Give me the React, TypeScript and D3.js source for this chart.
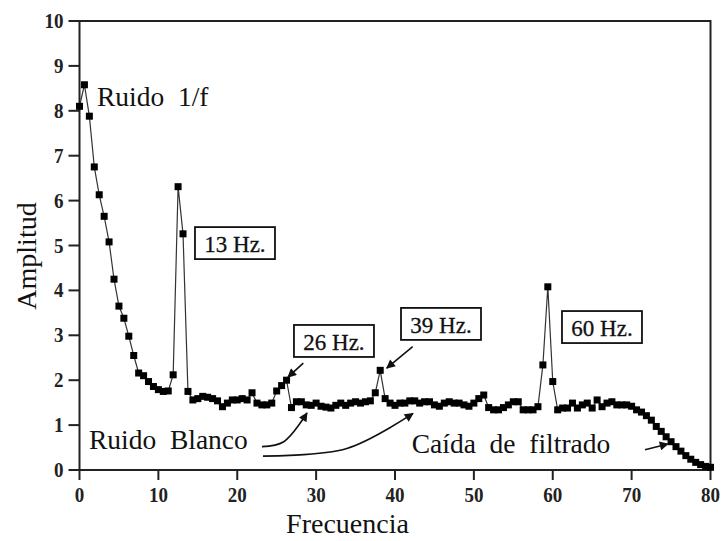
import React from "react";
import * as d3 from "d3";

// Spectrum sampled every 0.625 Hz from 0 to 80 Hz
const binWidthHz = 0.625;
const amplitude = [
  8.1, 8.58, 7.88, 6.75, 6.13, 5.65, 5.08, 4.25, 3.65, 3.38,
  2.98, 2.55, 2.16, 2.1, 1.97, 1.86, 1.79, 1.75, 1.76, 2.12,
  6.31, 5.26, 1.75, 1.56, 1.59, 1.64, 1.62, 1.59, 1.54, 1.41,
  1.49, 1.56, 1.56, 1.59, 1.56, 1.72, 1.49, 1.45, 1.45, 1.49,
  1.76, 1.88, 2.0, 1.39, 1.52, 1.52, 1.45, 1.44, 1.49, 1.42,
  1.4, 1.38, 1.44, 1.49, 1.44, 1.49, 1.52, 1.49, 1.52, 1.54,
  1.72, 2.22, 1.59, 1.49, 1.44, 1.49, 1.49, 1.54, 1.54, 1.49,
  1.52, 1.52, 1.45, 1.42, 1.49, 1.52, 1.49, 1.49, 1.45, 1.42,
  1.49, 1.59, 1.67, 1.39, 1.34, 1.34, 1.39, 1.45, 1.52, 1.52,
  1.34, 1.34, 1.34, 1.41, 2.34, 4.08, 1.97, 1.34, 1.38, 1.38,
  1.49, 1.38, 1.45, 1.49, 1.38, 1.56, 1.41, 1.49, 1.52, 1.45,
  1.45, 1.45, 1.42, 1.34, 1.29, 1.21, 1.11, 0.97, 0.86, 0.74,
  0.63, 0.52, 0.42, 0.32, 0.24, 0.17, 0.12, 0.08, 0.06,
];

const xTicks = [0, 10, 20, 30, 40, 50, 60, 70, 80];
const yTicks = [0, 1, 2, 3, 4, 5, 6, 7, 8, 9, 10];

// Boxed peak labels: [text, left Hz, top amplitude]
const peakLabels: [string, number, number][] = [
  ["13 Hz.", 14.64, 5.41],
  ["26 Hz.", 27.19, 3.23],
  ["39 Hz.", 40.76, 3.61],
  ["60 Hz.", 61.17, 3.54],
];

// Free text labels: [text, Hz, amplitude at baseline]
const noteLabels: [string, number, number][] = [
  ["Ruido  1/f", 2.22, 8.11],
  ["Ruido  Blanco", 1.2, 0.47],
  ["Caída  de  filtrado", 42.12, 0.38],
];

// Pointer arrows, each a list of [Hz, amplitude] ending at the tip
const pointers: [number, number][][] = [
  [[28.37, 2.38], [26.43, 2.07]],
  [[42.24, 2.75], [38.95, 2.27]],
  [[23.14, 0.52], [25.9, 0.63], [28.84, 1.27]],
  [[23.26, 0.31], [33.9, 0.48], [42.28, 1.26]],
  [[71.7, 0.45], [74.6, 0.58]],
];

const W = 723;
const H = 541;
const left = 79.5;
const right = 710.5;
const top = 21;
const bottom = 470;

const serif = "'Liberation Serif', 'DejaVu Serif', serif";

export default function App() {
  const x = d3.scaleLinear().domain([0, 80]).range([left, right]);
  const y = d3.scaleLinear().domain([0, 10]).range([bottom, top]);

  const points = amplitude.map((v, i) => [i * binWidthHz, v] as [number, number]);
  const line = d3
    .line<[number, number]>()
    .x((d) => x(d[0]))
    .y((d) => y(d[1]));

  const arrowLine = d3
    .line<[number, number]>()
    .x((d) => x(d[0]))
    .y((d) => y(d[1]))
    .curve(d3.curveCatmullRom.alpha(0.5));

  const ink = "#111";
  const m = 7;

  return (
    <svg
      width={W}
      height={H}
      style={{ position: "absolute", left: 0, top: 0, background: "#fff" }}
    >
      <defs>
        <marker
          id="head"
          viewBox="0 0 10 10"
          refX="9"
          refY="5"
          markerWidth="11"
          markerHeight="9"
          markerUnits="userSpaceOnUse"
          orient="auto"
        >
          <path d="M0,0 L10,5 L0,10 Z" fill={ink} />
        </marker>
      </defs>
      <rect x={0} y={0} width={W} height={H} fill="#fff" />

      {/* frame */}
      <rect
        x={left}
        y={top}
        width={right - left}
        height={bottom - top}
        fill="none"
        stroke="#222"
        strokeWidth={2}
      />

      {/* y axis */}
      {yTicks.map((t) => (
        <g key={"y" + t}>
          <line x1={left - 11} x2={left} y1={y(t)} y2={y(t)} stroke="#222" strokeWidth={2} />
          <text
            transform={`translate(${left - 16}, ${y(t) + 7}) scale(1, 1.15)`}
            textAnchor="end"
            fontFamily={serif}
            fontWeight="bold"
            fontSize={19}
            fill="#222"
          >
            {t}
          </text>
        </g>
      ))}

      {/* x axis */}
      {xTicks.map((t) => (
        <g key={"x" + t}>
          <line x1={x(t)} x2={x(t)} y1={bottom} y2={bottom + 10} stroke="#222" strokeWidth={2} />
          <text
            transform={`translate(${x(t)}, ${bottom + 32}) scale(1, 1.15)`}
            textAnchor="middle"
            fontFamily={serif}
            fontWeight="bold"
            fontSize={19}
            fill="#222"
          >
            {t}
          </text>
        </g>
      ))}

      {/* axis titles */}
      <text
        transform={`translate(36, 256) rotate(-90)`}
        textAnchor="middle"
        fontFamily={serif}
        fontSize={28}
        fill={ink}
      >
        Amplitud
      </text>
      <text
        x={347.5}
        y={533}
        textAnchor="middle"
        fontFamily={serif}
        fontSize={28}
        fill={ink}
      >
        Frecuencia
      </text>

      {/* spectrum */}
      <path d={line(points) || ""} fill="none" stroke="#333" strokeWidth={1.2} />
      {points.map((p, i) => (
        <rect
          key={"m" + i}
          x={x(p[0]) - m / 2}
          y={y(p[1]) - m / 2}
          width={m}
          height={m}
          fill="#000"
        />
      ))}

      {/* free text labels */}
      {noteLabels.map(([label, f, v]) => (
        <text
          key={label}
          x={x(f)}
          y={y(v)}
          fontFamily={serif}
          fontSize={27.5}
          fill={ink}
          style={{ whiteSpace: "pre" }}
        >
          {label}
        </text>
      ))}

      {/* boxed peak labels */}
      {peakLabels.map(([label, f, v]) => (
        <g key={label}>
          <rect
            x={x(f)}
            y={y(v)}
            width={80}
            height={32}
            fill="#fff"
            stroke={ink}
            strokeWidth={1.8}
          />
          <text
            x={x(f) + 40}
            y={y(v) + 25}
            textAnchor="middle"
            fontFamily={serif}
            fontSize={23}
            fill={ink}
            stroke={ink}
            strokeWidth={0.3}
          >
            {label}
          </text>
        </g>
      ))}

      {/* pointer arrows */}
      {pointers.map((pts, i) => (
        <path
          key={"a" + i}
          d={arrowLine(pts) || ""}
          fill="none"
          stroke={ink}
          strokeWidth={1.6}
          markerEnd="url(#head)"
        />
      ))}
    </svg>
  );
}
